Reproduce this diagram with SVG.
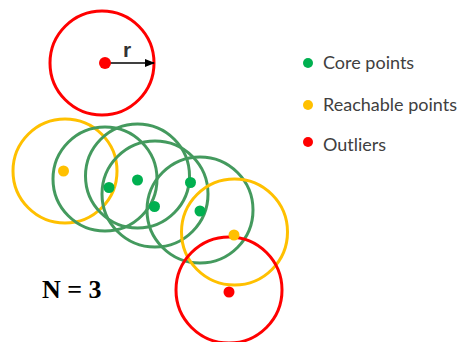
<svg xmlns="http://www.w3.org/2000/svg" width="461" height="342" viewBox="0 0 461 342">
<style>
.c{fill:none;stroke-width:3}
.red{stroke:#ff0000}
.yel{stroke:#ffc000}
.grn{stroke:#449a5e}
.dg{fill:#00b050}
.dy{fill:#ffc000}
.dr{fill:#ff0000}
.leg{font-family:Lato,"Open Sans",sans-serif;font-size:18px;fill:#404040}
</style>
<defs>
<marker id="ah" markerWidth="10" markerHeight="8" refX="9" refY="4" orient="auto" markerUnits="userSpaceOnUse">
<path d="M0,0 L10,4 L0,8 z" fill="#000"/>
</marker>
</defs>
<g id="circles">
<circle id="outlier-top" class="c red" cx="102" cy="63" r="52"/>
<circle id="reach-left" class="c yel" cx="65" cy="171" r="52"/>
<circle id="core1" class="c grn" cx="105" cy="179" r="52"/>
<circle id="core2" class="c grn" cx="137.5" cy="176" r="52"/>
<circle id="core3" class="c grn" cx="155" cy="194" r="53"/>
<circle id="core4" class="c grn" cx="200" cy="210" r="53"/>
<circle id="reach-right" class="c yel" cx="234.5" cy="232" r="53"/>
<circle id="outlier-bottom" class="c red" cx="229" cy="290" r="53"/>
</g>
<g id="connectors">
<line x1="105" y1="63" x2="154" y2="63" stroke="#000" stroke-width="1.5" marker-end="url(#ah)"/>
</g>
<g id="points">
<circle class="dr" cx="105" cy="63" r="6"/>
<circle class="dy" cx="63.5" cy="171" r="5.5"/>
<circle class="dg" cx="109" cy="187.5" r="5.5"/>
<circle class="dg" cx="137.5" cy="180" r="5.5"/>
<circle class="dg" cx="154.5" cy="206.5" r="5.5"/>
<circle class="dg" cx="190.5" cy="182.5" r="5.5"/>
<circle class="dg" cx="200" cy="211" r="5.5"/>
<circle class="dy" cx="234" cy="235" r="5.5"/>
<circle class="dr" cx="229" cy="292" r="5.5"/>
</g>
<text x="127" y="57" font-family="Liberation Sans,Arial,sans-serif" font-weight="bold" font-size="21" fill="#333" text-anchor="middle">r</text>
<text x="42" y="298" font-family="Liberation Serif,Times New Roman,serif" font-weight="bold" font-size="26" fill="#000">N = 3</text>
<g id="legend">
<circle class="dg" cx="308" cy="63" r="5"/>
<text class="leg" x="323" y="69">Core points</text>
<circle class="dy" cx="308" cy="105" r="5"/>
<text class="leg" x="323" y="111">Reachable points</text>
<circle class="dr" cx="308" cy="142" r="5"/>
<text class="leg" x="323" y="151">Outliers</text>
</g>
</svg>
